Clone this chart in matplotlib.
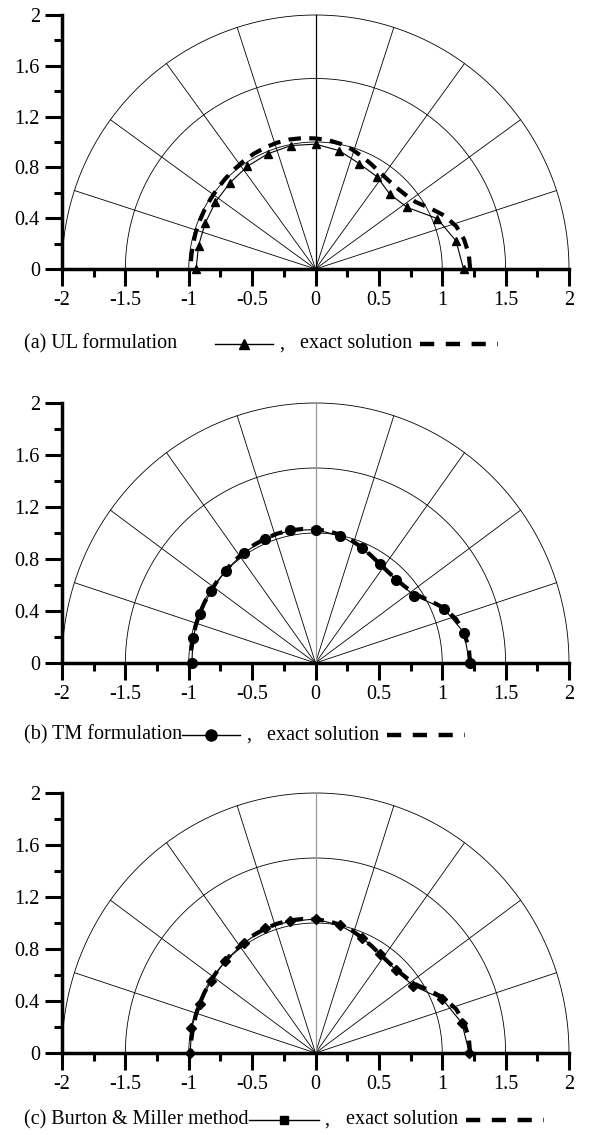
import numpy as np
import matplotlib.pyplot as plt
from matplotlib.lines import Line2D

plt.rcParams['font.family'] = ['Liberation Serif', 'DejaVu Serif']

W, H = 596, 1135
FS = 14.5

# angles of the numerical nodes (deg)
theta_num = [0, 11.25, 22.5, 33.75, 45, 56.25, 67.5, 78.75, 90,
             101.25, 112.5, 123.75, 135, 146.25, 157.5, 168.75, 180]
r_ul = [1.168, 1.131, 1.039, 0.872, 0.831, 0.874, 0.899, 0.951, 0.983,
        0.991, 0.982, 0.971, 0.957, 0.949, 0.942, 0.941, 0.942]
r_tm = [1.215, 1.195, 1.095, 0.934, 0.902, 0.918, 0.956, 0.998, 1.026,
        1.040, 1.034, 1.018, 1.004, 0.993, 0.990, 0.986, 0.975]
r_bm = [1.213, 1.178, 1.083, 0.929, 0.898, 0.920, 0.960, 1.000, 1.031,
        1.032, 1.040, 1.017, 1.005, 0.994, 0.990, 0.998, 0.988]

# exact solution
theta_ex = [0, 5.625, 11.25, 16.875, 22.5, 28.125, 33.75, 39.375, 45,
            50.625, 56.25, 61.875, 67.5, 73.125, 78.75, 84.375, 90,
            95.625, 101.25, 106.875, 112.5, 118.125, 123.75, 129.375, 135,
            140.625, 146.25, 151.875, 157.5, 163.125, 168.75, 174.375, 180]
r_ex = [1.22, 1.215, 1.195, 1.16, 1.10, 1.02, 0.95, 0.92, 0.905,
        0.905, 0.915, 0.935, 0.96, 0.985, 1.005, 1.02, 1.028,
        1.036, 1.04, 1.04, 1.036, 1.03, 1.022, 1.013, 1.006,
        1.0, 0.995, 0.992, 0.99, 0.988, 0.986, 0.985, 0.985]

grid_r = [1.0, 1.5, 2.0]
spoke_deg = [18, 36, 54, 72, 90, 108, 126, 144, 162]

x_ticks = [-2, -1.5, -1, -0.5, 0, 0.5, 1, 1.5, 2]
x_labels = ['-2', '-1.5', '-1', '-0.5', '0', '0.5', '1', '1.5', '2']
y_ticks = [0, 0.4, 0.8, 1.2, 1.6, 2]
y_labels = ['0', '0.4', '0.8', '1.2', '1.6', '2']

panels = [
    # y of r=2 px, y of r=0 px, caption y px, label, data, marker, ms, gap, seg, mid spoke colour
    (15, 269, 344, '(a) UL formulation', r_ul, '^', 6, 38, 58, 'k'),
    (403, 663, 735, '(b) TM formulation', r_tm, 'o', 7, 0, 58, '0.6'),
    (793, 1053, 1120, '(c) Burton & Miller method', r_bm, 'D', 5, 0, 70, '0.6'),
]

fig = plt.figure(figsize=(W / 100, H / 100), dpi=100)
renderer = fig.canvas.get_renderer()


def pol(r, th):
    th = np.radians(th)
    return np.array(r) * np.cos(th), np.array(r) * np.sin(th)


for top, bot, cap_y, label, r_num, mk, ms, gap, seg, midc in panels:
    ax = fig.add_axes([62 / W, 1 - bot / H, (569 - 62) / W, (bot - top) / H])
    t = np.linspace(0, np.pi, 300)
    for r in grid_r:
        ax.plot(r * np.cos(t), r * np.sin(t), color='k', lw=0.6, clip_on=False)
    for d in spoke_deg:
        c = midc if d == 90 else 'k'
        ax.plot([0, 2 * np.cos(np.radians(d))], [0, 2 * np.sin(np.radians(d))],
                color=c, lw=0.6 if d != 90 else 0.9, clip_on=False)

    xn, yn = pol(r_num, theta_num)
    ax.plot(xn, yn, color='k', lw=0.8, marker=mk, ms=ms, clip_on=False, zorder=3)
    xe, ye = pol(r_ex, theta_ex)
    ax.plot(xe, ye, color='k', lw=3, dashes=(3.0, 2.0), clip_on=False, zorder=4)

    ax.set_xlim(-2, 2)
    ax.set_ylim(0, 2)
    ax.set_xticks(x_ticks)
    ax.set_xticklabels(x_labels)
    ax.set_yticks(y_ticks)
    ax.set_yticklabels(y_labels)
    ax.set_xticks([-1.75, -1.25, -0.75, -0.25, 0.25, 0.75, 1.25, 1.75], minor=True)
    ax.set_yticks([0.2, 0.6, 1.0, 1.4, 1.8], minor=True)
    ax.tick_params(which='major', length=12, width=2.2, direction='out',
                   labelsize=FS, pad=4)
    ax.tick_params(which='minor', length=6, width=2.2, direction='out')
    for s in ['top', 'right']:
        ax.spines[s].set_visible(False)
    for s in ['left', 'bottom']:
        ax.spines[s].set_linewidth(2.5)
    ax.patch.set_visible(False)

    # caption with inline legend
    yc = 1 - cap_y / H
    txt = fig.text(24 / W, yc, label, fontsize=FS, va='center', ha='left')
    bb = txt.get_window_extent(renderer)
    x0 = bb.x1 + gap
    x1 = x0 + seg
    fig.add_artist(Line2D([x0 / W, x1 / W], [yc, yc], transform=fig.transFigure,
                          color='k', lw=1))
    lm = 's' if mk == 'D' else mk
    fig.add_artist(Line2D([(x0 + x1) / 2 / W], [yc], transform=fig.transFigure,
                          color='k', marker=lm, ms=ms + 1, ls='none'))
    cm = fig.text((x1 + 6) / W, yc, ',', fontsize=FS, va='center', ha='left')
    bb = cm.get_window_extent(renderer)
    ex = fig.text((bb.x1 + 16) / W, yc, 'exact solution', fontsize=FS,
                  va='center', ha='left')
    bb = ex.get_window_extent(renderer)
    d0 = bb.x1 + 8
    fig.add_artist(Line2D([d0 / W, (d0 + 78) / W], [yc, yc], transform=fig.transFigure,
                          color='k', lw=3.2, dashes=(3.2, 2.6)))

fig.savefig('out.png', dpi=100)
